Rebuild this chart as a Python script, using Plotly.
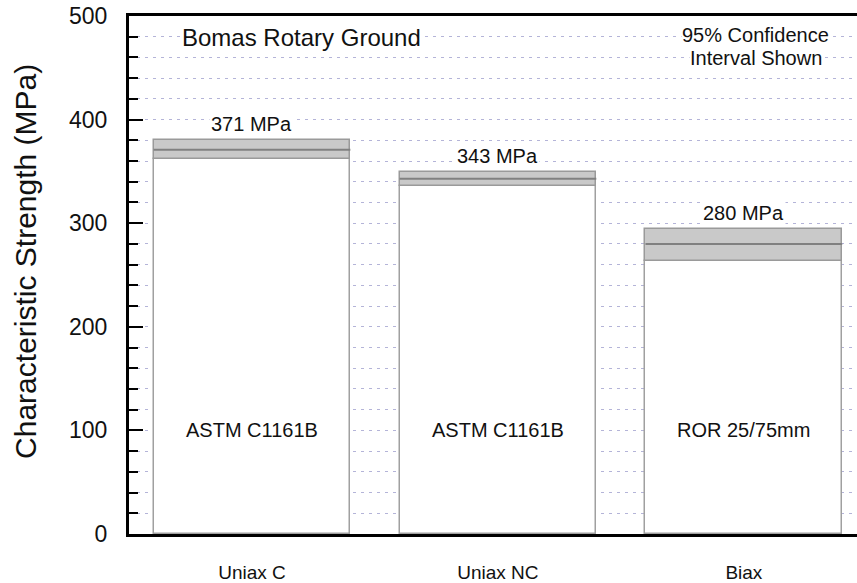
import plotly.graph_objects as go

# Characteristic strength with 95% confidence bounds
categories = ["Uniax C", "Uniax NC", "Biax"]
methods = ["ASTM C1161B", "ASTM C1161B", "ROR 25/75mm"]
strength = [371, 343, 280]
ci_lower = [362, 336, 264]
ci_upper = [380, 349, 294]

FONT = "Arial, Liberation Sans, sans-serif"
xpos = list(range(len(categories)))
BAR_W = 0.8

fig = go.Figure()

# white body of each bar, from zero up to the lower confidence bound
fig.add_trace(go.Bar(
    x=xpos, y=ci_lower, width=BAR_W,
    marker=dict(color="white", line=dict(color="#a0a0a0", width=1.5)),
    hoverinfo="skip", showlegend=False,
))
# grey confidence band
fig.add_trace(go.Bar(
    x=xpos, y=[u - l for u, l in zip(ci_upper, ci_lower)], base=ci_lower,
    width=BAR_W,
    marker=dict(color="#c9c9c9", line=dict(color="#9a9a9a", width=1.5)),
    hoverinfo="skip", showlegend=False,
))

# line at the characteristic strength inside each band
for xi, s in zip(xpos, strength):
    fig.add_shape(type="line", xref="x", yref="y",
                  x0=xi - BAR_W / 2, x1=xi + BAR_W / 2, y0=s, y1=s,
                  line=dict(color="#808080", width=2))

# value labels above the bands and method labels inside the bars
for xi, s, u, m in zip(xpos, strength, ci_upper, methods):
    fig.add_annotation(x=xi, y=u, text=f"{s} MPa", showarrow=False,
                       yanchor="bottom", yshift=3,
                       font=dict(family=FONT, size=20, color="#111111"),
                       bgcolor="white")
    fig.add_annotation(x=xi, y=100, text=m, showarrow=False,
                       font=dict(family=FONT, size=20, color="#111111"))

fig.add_annotation(xref="paper", x=0.237, xanchor="center", y=479,
                   text="Bomas Rotary Ground",
                   showarrow=False, bgcolor="white", borderpad=1,
                   font=dict(family=FONT, size=24, color="#111111"))
fig.add_annotation(xref="paper", x=0.861, xanchor="center", y=482,
                   text="95% Confidence",
                   showarrow=False, bgcolor="white", borderpad=0,
                   font=dict(family=FONT, size=20, color="#111111"))
fig.add_annotation(xref="paper", x=0.861, xanchor="center", y=459,
                   text="Interval Shown",
                   showarrow=False, bgcolor="white", borderpad=0,
                   font=dict(family=FONT, size=20, color="#111111"))

# y-axis title
fig.add_annotation(xref="paper", yref="paper", x=-0.143, y=0.527,
                   xanchor="center", yanchor="middle", textangle=-90,
                   text="Characteristic Strength (MPa)", showarrow=False,
                   font=dict(family=FONT, size=30, color="#111111"))

grid = dict(gridcolor="rgba(140,140,195,0.65)", gridwidth=1, griddash="3px,5px")

fig.update_layout(
    width=857, height=583,
    margin=dict(l=129, r=0, t=16, b=49),
    paper_bgcolor="white", plot_bgcolor="white",
    barmode="overlay", bargap=0,
    font=dict(family=FONT, color="#111111"),
    xaxis=dict(
        range=[-0.5, 2.46],
        tickmode="array", tickvals=xpos, ticktext=categories,
        tickfont=dict(family=FONT, size=19, color="#111111"),
        ticks="", ticklabelstandoff=19, automargin=False,
        showgrid=False, zeroline=False,
        showline=True, linecolor="black", linewidth=3, mirror=True,
    ),
    yaxis=dict(
        range=[0, 500], automargin=False,
        tickmode="linear", tick0=0, dtick=100,
        ticks="inside", ticklen=14, tickwidth=2, tickcolor="black",
        tickfont=dict(family=FONT, size=23, color="#111111"),
        ticklabelstandoff=14,
        showline=True, linecolor="black", linewidth=3,
        zeroline=False, showgrid=True, **grid,
        minor=dict(dtick=20, ticks="inside", ticklen=9, tickwidth=1.5,
                   tickcolor="black", showgrid=True, **grid),
    ),
)

fig.write_html("out.html")
